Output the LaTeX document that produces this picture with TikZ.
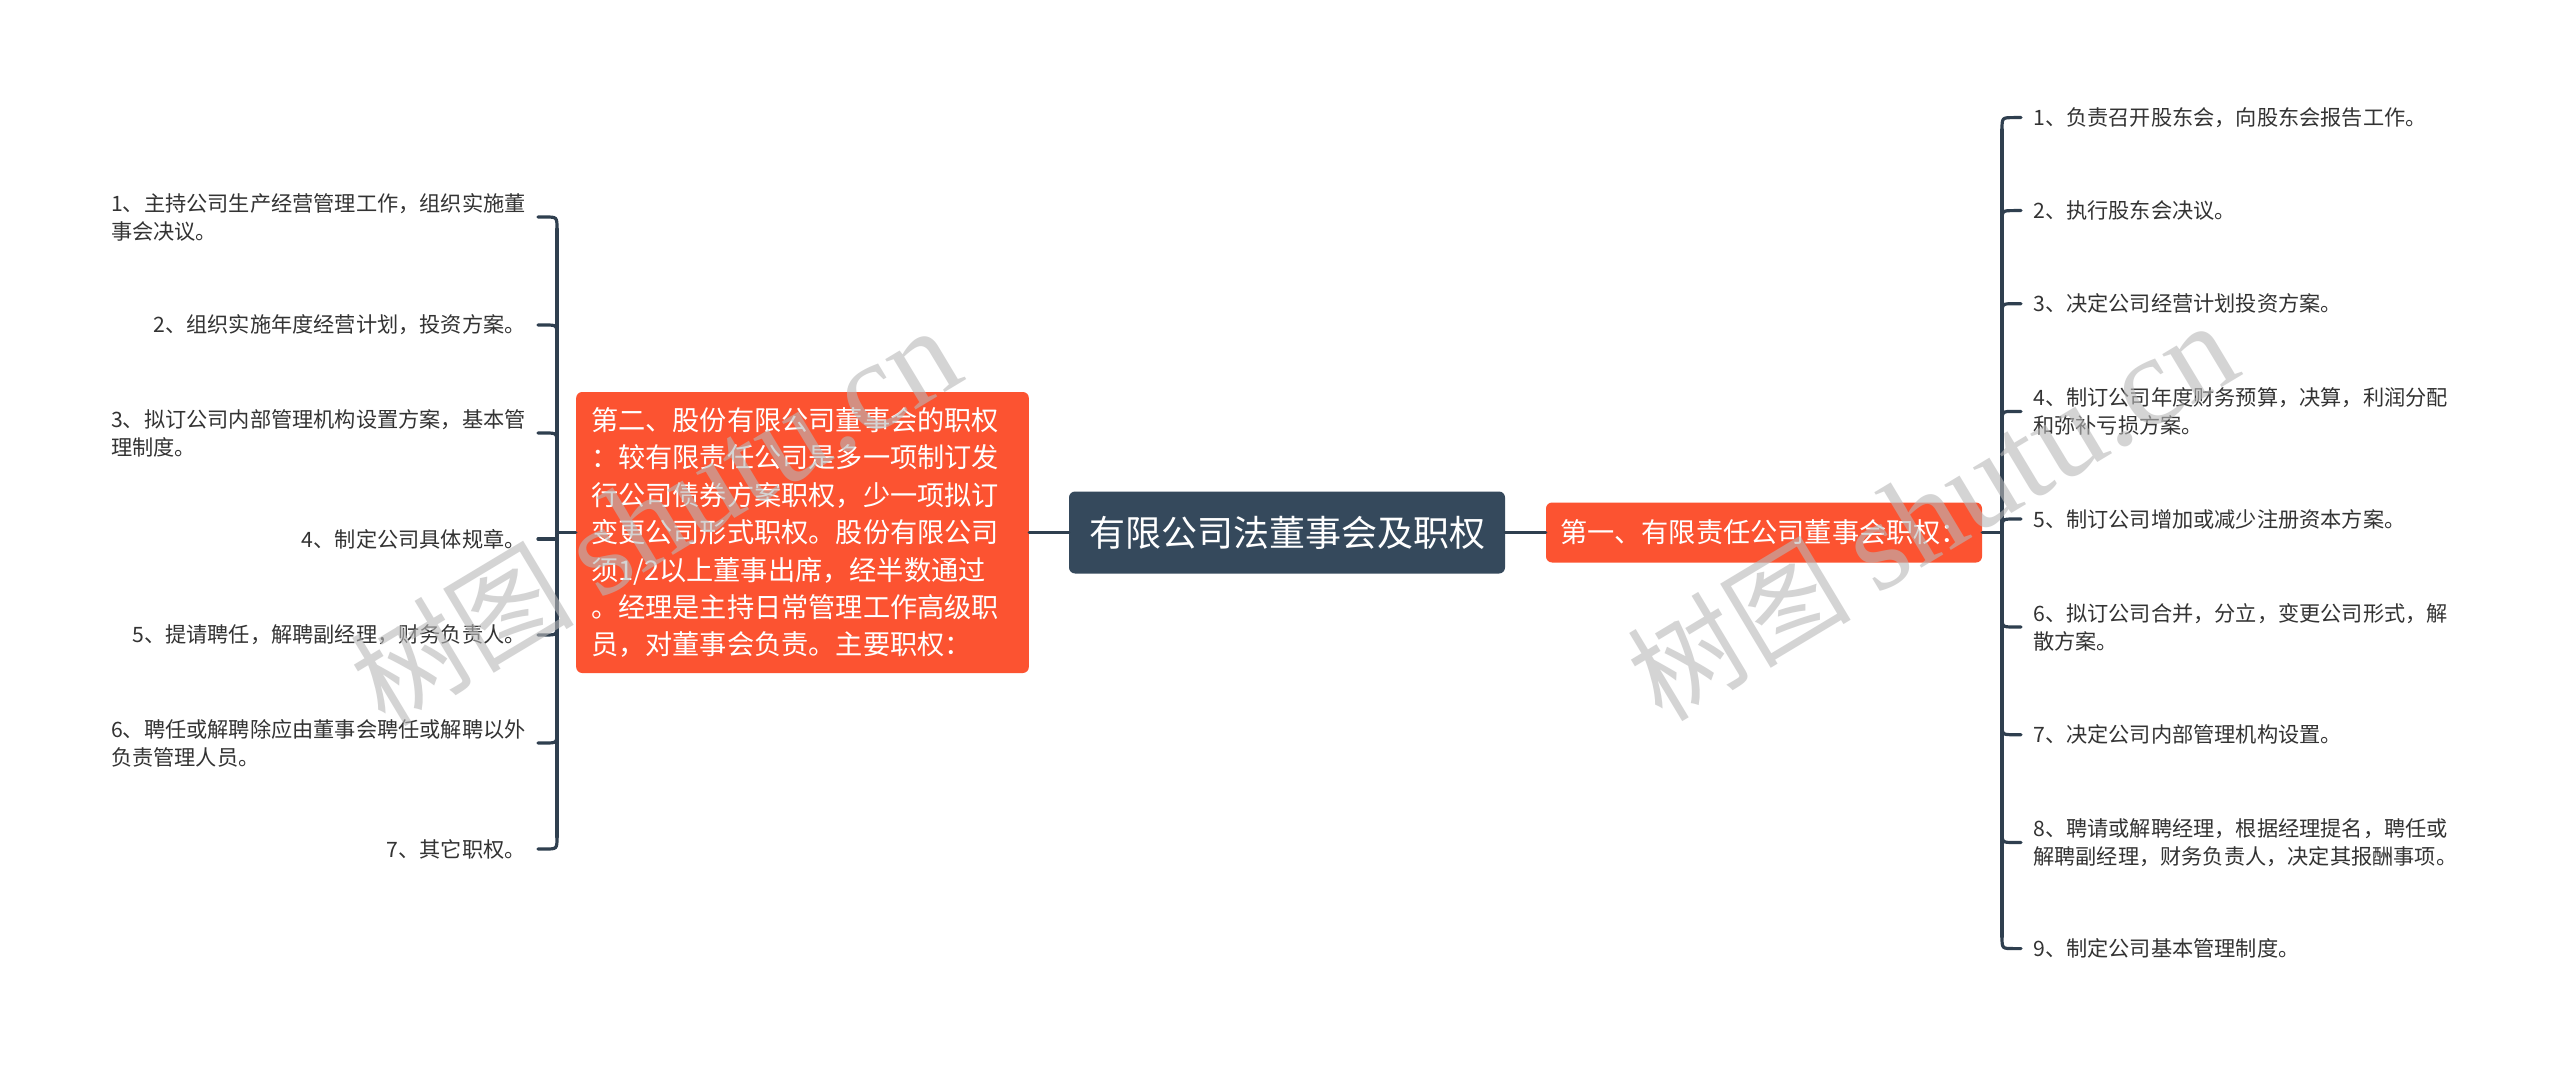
\documentclass[tikz,border=0pt]{standalone}
\usepackage{fontspec}
\setmainfont{Noto Sans CJK SC}
\newfontfamily\wmserif{Liberation Serif}
\usetikzlibrary{calc}
\definecolor{slate}{HTML}{35495C}
\definecolor{orng}{HTML}{FC5331}
\definecolor{linec}{HTML}{2F3F4F}
\definecolor{txt}{HTML}{333333}
\definecolor{wmgray}{HTML}{B8B8B8}
\begin{document}
\begin{tikzpicture}[x=0.75pt,y=-0.75pt,
  conn/.style={draw=linec, line width=2.4pt, line cap=round},
  leafbase/.style={inner xsep=9pt, inner ysep=0pt, align=left, text=txt,
    font=\fontsize{15.9}{21}\selectfont},
  leafR/.style={leafbase, anchor=west},
  leafL/.style={leafbase, anchor=east},
  centralbox/.style={fill=slate, rounded corners=4.5pt, text=white,
    minimum width=327pt, minimum height=61.5pt, inner sep=0pt,
    font=\fontsize{27}{32}\selectfont},
  subbox/.style={fill=orng, rounded corners=4.5pt, text=white,
    font=\fontsize{20.4}{28.1}\selectfont},
  wmark/.style={text=wmgray, opacity=0.6, rotate=31, inner sep=0pt,
    font=\fontsize{84}{94}\selectfont}
]
\fill[white] (0,0) rectangle (2560,1066);
\useasboundingbox (0,0) rectangle (2560,1066);

% central and main branches
\node[centralbox] (root) at (1287,532.5) {有限公司法董事会及职权};
\node[subbox, minimum width=327pt, minimum height=45pt, inner sep=0pt] (ror) at (1764,532.5) {第一、有限责任公司董事会职权：};
\node[subbox, text width=317pt, inner xsep=11.25pt, inner ysep=0pt, minimum height=210.75pt, align=left] (lor) at (802.5,532.5)
 {第二、股份有限公司董事会的职权\\：较有限责任公司是多一项制订发\\行公司债券方案职权，少一项拟订\\变更公司形式职权。股份有限公司\\须1/2以上董事出席，经半数通过\\。经理是主持日常管理工作高级职\\员，对董事会负责。主要职权：};

\coordinate (rt) at (2002,532.5);
\coordinate (lt) at (557,532.5);

% right leaves
\node[leafR] (R1) at (2021,117.6) {1、负责召开股东会，向股东会报告工作。};
\node[leafR] (R2) at (2021,210.6) {2、执行股东会决议。};
\node[leafR] (R3) at (2021,303.7) {3、决定公司经营计划投资方案。};
\node[leafR] (R4) at (2021,411.4) {4、制订公司年度财务预算，决算，利润分配\\和弥补亏损方案。};
\node[leafR] (R5) at (2021,519) {5、制订公司增加或减少注册资本方案。};
\node[leafR] (R6) at (2021,627) {6、拟订公司合并，分立，变更公司形式，解\\散方案。};
\node[leafR] (R7) at (2021,734.7) {7、决定公司内部管理机构设置。};
\node[leafR] (R8) at (2021,842.5) {8、聘请或解聘经理，根据经理提名，聘任或\\解聘副经理，财务负责人，决定其报酬事项。};
\node[leafR] (R9) at (2021,948.6) {9、制定公司基本管理制度。};

% left leaves
\node[leafL] (L1) at (538,217) {1、主持公司生产经营管理工作，组织实施董\\事会决议。};
\node[leafL] (L2) at (538,325) {2、组织实施年度经营计划，投资方案。};
\node[leafL] (L3) at (538,433) {3、拟订公司内部管理机构设置方案，基本管\\理制度。};
\node[leafL] (L4) at (538,539) {4、制定公司具体规章。};
\node[leafL] (L5) at (538,635) {5、提请聘任，解聘副经理，财务负责人。};
\node[leafL] (L6) at (538,743) {6、聘任或解聘除应由董事会聘任或解聘以外\\负责管理人员。};
\node[leafL] (L7) at (538,849) {7、其它职权。};

% main connectors
\draw[conn] (lor.east) -- (root.west);
\draw[conn] (root.east) -- (ror.west);
\draw[conn] (ror.east) -- (rt);
\draw[conn] (lor.west) -- (lt);

% right trunk and branches
\draw[conn] ($(rt |- R1.west)+(0,12)$) -- ($(rt |- R9.west)+(0,-12)$);
\foreach \n in {R1,R2,R3,R4,R5}{
  \draw[conn] ($(rt |- \n.west)+(0,12)$) .. controls (rt |- \n.west) .. ($(rt |- \n.west)+(12,0)$) -- (\n.west);
}
\foreach \n in {R6,R7,R8,R9}{
  \draw[conn] ($(rt |- \n.west)+(0,-12)$) .. controls (rt |- \n.west) .. ($(rt |- \n.west)+(12,0)$) -- (\n.west);
}

% left trunk and branches
\draw[conn] ($(lt |- L1.east)+(0,12)$) -- ($(lt |- L7.east)+(0,-12)$);
\foreach \n in {L1,L2,L3}{
  \draw[conn] ($(lt |- \n.east)+(0,12)$) .. controls (lt |- \n.east) .. ($(lt |- \n.east)+(-12,0)$) -- (\n.east);
}
\draw[conn] (lt |- L4.east) -- (L4.east);
\foreach \n in {L5,L6,L7}{
  \draw[conn] ($(lt |- \n.east)+(0,-12)$) .. controls (lt |- \n.east) .. ($(lt |- \n.east)+(-12,0)$) -- (\n.east);
}

% watermarks
\node[wmark] (wm1) at (655,517) {树图 {\wmserif\fontsize{96}{100}\selectfont shutu.cn}};
\node[wmark] (wm2) at (1932,512) {树图 {\wmserif\fontsize{96}{100}\selectfont shutu.cn}};
\end{tikzpicture}
\end{document}
